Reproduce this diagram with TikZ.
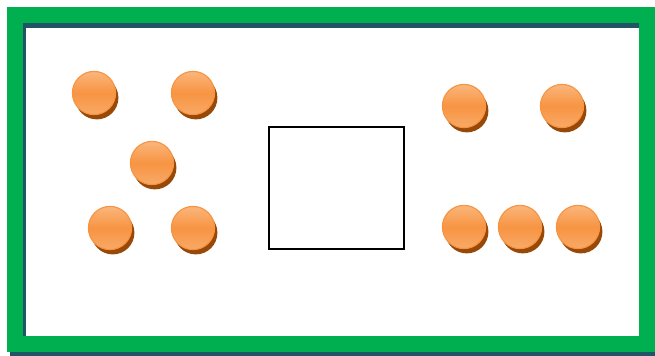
\documentclass[tikz,border=0pt]{standalone}
\definecolor{frameGreen}{RGB}{0,176,80}
\definecolor{frameShade}{RGB}{33,84,100}
\definecolor{ballOrange}{RGB}{247,148,66}
\definecolor{ballLight}{RGB}{250,182,124}
\definecolor{ballDark}{RGB}{152,72,7}
\usepackage{tikz}
\usetikzlibrary{positioning,shadows}

\tikzset{
  ball/.style={circle, inner sep=0pt, minimum size=1.08cm, draw=ballOrange, line width=0.8pt,
    top color=ballLight, bottom color=ballOrange!80!white, middle color=ballOrange,
    drop shadow={shadow xshift=0.07cm, shadow yshift=-0.12cm, fill=ballDark, opacity=1}},
  framebar/.style={line width=0.4cm}
}

\begin{document}
\begin{tikzpicture}[x=0.025cm,y=0.025cm]
    \fill[white] (0,0) rectangle (655,355);
    \useasboundingbox (0,0) rectangle (655,355);
    % frame with its shadow
    \draw[framebar, frameShade] (18,335) rectangle (650,7);
    \draw[framebar, frameGreen] (15,340) rectangle (647,11);
    % middle box
    \node[draw, line width=1.1pt, minimum width=3.375cm, minimum height=3.05cm,
      drop shadow={shadow xshift=1pt, shadow yshift=-1pt, fill=gray!40, opacity=1}, fill=white]
      (box) at (336.5,167) {};
    % left group
    \foreach \name/\x/\y in {l1/94/262, l2/193/262, l3/152/192, l4/110/127, l5/193/127}
      \node[ball] (\name) at (\x,\y) {};
    % right group
    \foreach \name/\x/\y in {r1/464/249, r2/562/249, r3/464/128, r4/520/128, r5/578/128}
      \node[ball] (\name) at (\x,\y) {};
\end{tikzpicture}
\end{document}
